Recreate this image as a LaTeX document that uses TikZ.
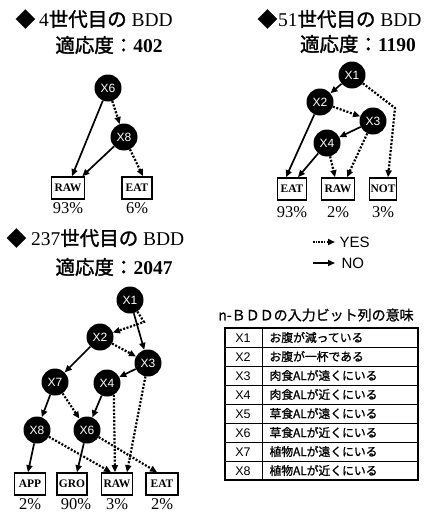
\documentclass[tikz,border=0pt]{standalone}
\usepackage{fontspec}
\setmainfont{Liberation Serif}
\setsansfont{Liberation Sans}
\newfontfamily\cjk[FakeBold=1.5]{Noto Sans CJK JP}
\newfontfamily\cjkt[FakeBold=1]{Noto Sans CJK JP}
\usetikzlibrary{arrows.meta,calc}
\tikzset{
  bnode/.style={circle, fill=black, minimum size=27pt, inner sep=0pt, text=white, font=\sffamily\fontsize{12}{12}\selectfont},
  leaf/.style={draw, line width=1.6pt, minimum height=22pt, inner sep=1pt, font=\bfseries\fontsize{11.5}{11.5}\selectfont},
  pct/.style={font=\fontsize{16.5}{16.5}\selectfont},
  noarr/.style={-{Triangle[length=7pt,width=6pt]}, line width=1.7pt},
  yesarr/.style={-{Triangle[length=7pt,width=6pt]}, line width=2.2pt, dash pattern=on 2pt off 1.6pt},
  ttl/.style={anchor=west, font=\fontsize{19.5}{19.5}\selectfont},
  fit/.style={font=\fontsize{19.5}{19.5}\selectfont},
  tcell/.style={anchor=west, font=\cjkt\fontsize{11.8}{11.8}\selectfont},
  tkey/.style={font=\sffamily\fontsize{12.5}{12.5}\selectfont}
}
\begin{document}
\begin{tikzpicture}[x=1pt,y=-1pt]
\useasboundingbox (0,0) rectangle (433,514);
% ---------- Panel 1 ----------
\node[ttl] (t1) at (12,19) {{\cjk ◆}\kern4pt 4{\cjk 世代目の} BDD};
\node[fit] (f1) at (109,45) {{\cjk 適応度：}\textbf{402}};
\node[bnode] (a6) at (108,88) {X6};
\node[bnode] (a8) at (124,137) {X8};
\node[leaf, minimum width=33pt] (araw) at (68,188) {RAW};
\node[leaf, minimum width=30pt] (aeat) at (137,188) {EAT};
\node[pct] (ap1) at (68,208) {93\%};
\node[pct] (ap2) at (137,208) {6\%};
\draw[noarr] (a6) -- ($(araw.north)+(4,0)$);
\draw[yesarr] (a6) -- (a8);
\draw[noarr] (a8) -- ($(araw.north east)+(-3,0)$);
\draw[yesarr] (a8) -- ($(aeat.north)+(6,0)$);
% ---------- Panel 2 ----------
\node[ttl] (t2) at (254,19) {{\cjk ◆}\kern1pt 51{\cjk 世代目の} BDD};
\node[fit] (f2) at (358,44) {{\cjk 適応度：}\textbf{1190}};
\node[bnode] (b1) at (352,75) {X1};
\node[bnode] (b2) at (320,102) {X2};
\node[bnode] (b3) at (373,121) {X3};
\node[bnode] (b4) at (327,143) {X4};
\coordinate (bk) at (395,108);
\node[leaf, minimum width=29pt] (beat) at (292,189) {EAT};
\node[leaf, minimum width=33pt] (braw) at (338,189) {RAW};
\node[leaf, minimum width=27pt] (bnot) at (383,189) {NOT};
\node[pct] (bp1) at (292,212) {93\%};
\node[pct] (bp2) at (338,212) {2\%};
\node[pct] (bp3) at (383,212) {3\%};
\draw[noarr] (b1) -- (b2);
\draw[yesarr] (b1) -- (bk) -- ($(bnot.north)+(5,0)$);
\draw[noarr] (b2) -- ($(beat.north)+(-6,0)$);
\draw[yesarr] (b2) -- (b3);
\draw[noarr] (b3) -- (b4);
\draw[yesarr] (b3) -- ($(braw.north)+(9,0)$);
\draw[noarr] (b4) -- ($(beat.north)+(6,0)$);
\draw[yesarr] (b4) -- ($(braw.north)+(-3,0)$);
% ---------- Panel 3 ----------
\node[ttl] (t3) at (3,238) {{\cjk ◆}\kern5pt 237{\cjk 世代目の} BDD};
\node[fit] (f3) at (114,267) {{\cjk 適応度：}\textbf{2047}};
\node[bnode] (c1) at (130,300) {X1};
\node[bnode] (c2) at (100,337) {X2};
\node[bnode] (c3) at (148,363) {X3};
\node[bnode] (c7) at (55,382) {X7};
\node[bnode] (c4) at (107,383) {X4};
\node[bnode] (c8) at (37,430) {X8};
\node[bnode] (c6) at (87,430) {X6};
\coordinate (ck) at (144,322);
\node[leaf, minimum width=31pt] (capp) at (30,484) {APP};
\node[leaf, minimum width=30pt] (cgro) at (72,484) {GRO};
\node[leaf, minimum width=31pt] (craw) at (117,484) {RAW};
\node[leaf, minimum width=32pt] (ceat) at (162,484) {EAT};
\node[pct] (cp1) at (30,504) {2\%};
\node[pct] (cp2) at (76,504) {90\%};
\node[pct] (cp3) at (117,504) {3\%};
\node[pct] (cp4) at (162,504) {2\%};
\draw[noarr] (c1) -- (c3);
\draw[yesarr] (c1) -- (ck) -- (c2);
\draw[noarr] (c2) -- (c7);
\draw[yesarr] (c2) -- (c3);
\draw[noarr] (c3) -- (c4);
\draw[yesarr] (c3) -- ($(craw.north)+(10,0)$);
\draw[noarr] (c7) -- (c8);
\draw[yesarr] (c7) -- (c6);
\draw[noarr] (c4) -- (c6);
\draw[yesarr] (c4.-60) -- ($(craw.north)+(-2,0)$);
\draw[noarr] (c8) -- ($(capp.north)+(-2,0)$);
\draw[yesarr] (c8) -- ($(craw.north)+(-6,0)$);
\draw[noarr] (c6) -- ($(cgro.north)+(5,0)$);
\draw[yesarr] (c6) -- ($(ceat.north)+(-5,0)$);
% ---------- Legend ----------
\coordinate (ly1) at (313,242);
\coordinate (ly2) at (335,242);
\coordinate (ln1) at (313,263);
\coordinate (ln2) at (335,263);
\draw[yesarr, line width=1.8pt, dash pattern=on 1.5pt off 1.2pt] (ly1) -- (ly2);
\draw[noarr] (ln1) -- (ln2);
\node[anchor=west, font=\sffamily\fontsize{15}{15}\selectfont] (lyes) at (336,242) {YES};
\node[anchor=west, font=\sffamily\fontsize{15}{15}\selectfont] (lno) at (338,263) {NO};
% ---------- Table ----------
\node[font=\cjkt\fontsize{14}{14}\selectfont] (tt) at (316,315) {n-ＢＤＤの入力ビット列の意味};
\draw[line width=1.3pt] (225,328) rectangle (418,480);
\draw[line width=1pt] (262,328) -- (262,480);
\foreach \i in {1,...,7} {\draw[line width=1pt] (225,{328+19*\i}) -- (418,{328+19*\i});}
\foreach \i/\t in {1/お腹が減っている,2/お腹が一杯である,3/肉食ALが遠くにいる,4/肉食ALが近くにいる,5/草食ALが遠くにいる,6/草食ALが近くにいる,7/植物ALが遠くにいる,8/植物ALが近くにいる} {
  \node[tkey] (k\i) at (243,{328+19*\i-9}) {X\i};
  \node[tcell] (v\i) at (266,{328+19*\i-9.5}) {\t};
}
\end{tikzpicture}
\end{document}
